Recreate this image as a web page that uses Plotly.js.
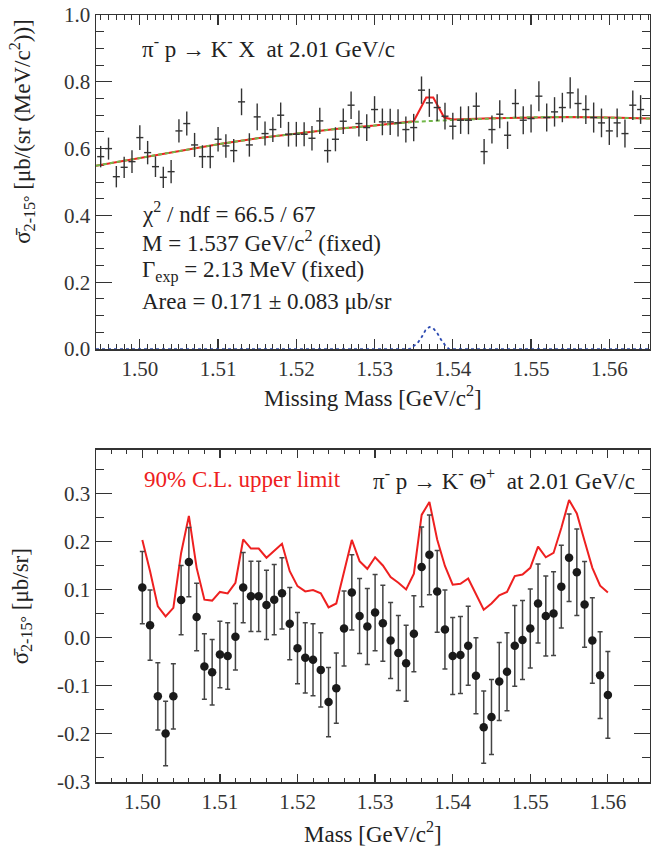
<!DOCTYPE html>
<html><head><meta charset="utf-8">
<script src="https://cdn.plot.ly/plotly-3.0.1.min.js"></script>
<style>html,body{margin:0;padding:0;background:#fff}</style>
</head><body><div id="chart" style="width:651px;height:847px"></div>
<script>
// ---- top panel: missing-mass spectrum ----
const topMass = [1.495,1.496,1.497,1.498,1.499,1.500,1.501,1.502,1.503,1.504,1.505,1.506,1.507,1.508,1.509,1.510,1.511,1.512,1.513,1.514,1.515,1.516,1.517,1.518,1.519,1.520,1.521,1.522,1.523,1.524,1.525,1.526,1.527,1.528,1.529,1.530,1.531,1.532,1.533,1.534,1.535,1.536,1.537,1.538,1.539,1.540,1.541,1.542,1.543,1.544,1.545,1.546,1.547,1.548,1.549,1.550,1.551,1.552,1.553,1.554,1.555,1.556,1.557,1.558,1.559,1.560,1.561,1.562,1.563,1.564];
const topSigma = [0.576,0.600,0.516,0.544,0.561,0.633,0.588,0.546,0.514,0.531,0.653,0.675,0.611,0.576,0.576,0.628,0.608,0.594,0.740,0.611,0.695,0.645,0.657,0.700,0.643,0.643,0.643,0.631,0.683,0.594,0.628,0.682,0.730,0.675,0.663,0.717,0.680,0.680,0.677,0.657,0.663,0.775,0.737,0.723,0.697,0.667,0.685,0.685,0.727,0.591,0.657,0.703,0.640,0.735,0.685,0.690,0.757,0.693,0.710,0.723,0.767,0.735,0.717,0.693,0.677,0.653,0.677,0.645,0.730,0.717];
const topErr = [0.032,0.033,0.032,0.032,0.034,0.037,0.035,0.031,0.032,0.035,0.035,0.036,0.036,0.034,0.035,0.037,0.035,0.035,0.040,0.035,0.040,0.036,0.037,0.038,0.037,0.037,0.036,0.037,0.039,0.036,0.036,0.038,0.041,0.039,0.040,0.040,0.040,0.039,0.041,0.039,0.041,0.041,0.042,0.040,0.040,0.040,0.041,0.042,0.041,0.038,0.042,0.042,0.041,0.043,0.042,0.042,0.045,0.042,0.044,0.044,0.047,0.045,0.043,0.045,0.043,0.042,0.043,0.042,0.044,0.043];
// background fit (green dashed)
const bgMass = [1.4944,1.500,1.505,1.510,1.515,1.520,1.525,1.530,1.535,1.540,1.545,1.550,1.555,1.560,1.5652];
const bgSigma = [0.549,0.572,0.594,0.613,0.631,0.646,0.659,0.669,0.680,0.686,0.691,0.694,0.695,0.693,0.690];
// total fit (red)
const fitMass = [1.4944,1.500,1.505,1.510,1.515,1.520,1.525,1.530,1.535,1.5366,1.5375,1.5389,1.540,1.545,1.550,1.555,1.560,1.5652];
const fitSigma = [0.549,0.572,0.594,0.613,0.631,0.646,0.659,0.669,0.682,0.753,0.753,0.693,0.687,0.691,0.694,0.695,0.693,0.690];
// signal peak (blue dotted)
const peakMass = [1.4944,1.5345,1.5355,1.536,1.5365,1.537,1.5375,1.538,1.5385,1.539,1.5395,1.5652];
const peakSigma = [0,0,0.018,0.035,0.056,0.066,0.062,0.048,0.028,0.012,0,0];

// ---- bottom panel: Theta+ cross section & upper limit ----
const botMass = [1.500,1.501,1.502,1.503,1.504,1.505,1.506,1.507,1.508,1.509,1.510,1.511,1.512,1.513,1.514,1.515,1.516,1.517,1.518,1.519,1.520,1.521,1.522,1.523,1.524,1.525,1.526,1.527,1.528,1.529,1.530,1.531,1.532,1.533,1.534,1.535,1.536,1.537,1.538,1.539,1.540,1.541,1.542,1.543,1.544,1.545,1.546,1.547,1.548,1.549,1.550,1.551,1.552,1.553,1.554,1.555,1.556,1.557,1.558,1.559,1.560];
const botSigma = [0.104,0.026,-0.122,-0.199,-0.122,0.078,0.157,0.043,-0.060,-0.072,-0.035,-0.038,0.002,0.104,0.086,0.086,0.068,0.079,0.092,0.029,-0.022,-0.042,-0.046,-0.067,-0.134,-0.105,0.019,0.094,0.045,0.023,0.052,0.030,-0.006,-0.032,-0.053,0.008,0.147,0.172,0.096,0.017,-0.038,-0.036,-0.017,-0.079,-0.186,-0.165,-0.091,-0.071,-0.017,-0.005,0.019,0.071,0.045,0.050,0.106,0.166,0.136,0.069,-0.006,-0.078,-0.119];
const botErr = [0.075,0.073,0.070,0.067,0.068,0.072,0.072,0.070,0.068,0.068,0.069,0.069,0.069,0.073,0.073,0.073,0.072,0.073,0.074,0.075,0.074,0.073,0.075,0.077,0.072,0.073,0.078,0.078,0.078,0.079,0.079,0.079,0.079,0.078,0.079,0.079,0.083,0.083,0.085,0.082,0.080,0.080,0.082,0.079,0.075,0.078,0.081,0.081,0.084,0.082,0.082,0.082,0.083,0.087,0.086,0.091,0.090,0.089,0.089,0.090,0.090];
const upperLimit = [0.203,0.138,0.065,0.044,0.062,0.176,0.253,0.145,0.079,0.077,0.095,0.092,0.114,0.204,0.185,0.185,0.166,0.180,0.195,0.138,0.107,0.096,0.099,0.092,0.063,0.071,0.138,0.203,0.159,0.143,0.167,0.150,0.126,0.114,0.100,0.133,0.255,0.282,0.204,0.149,0.110,0.112,0.123,0.092,0.058,0.071,0.088,0.095,0.128,0.131,0.145,0.189,0.167,0.176,0.228,0.286,0.258,0.201,0.145,0.108,0.094];

const topYTicks = [0.0,0.2,0.4,0.6,0.8,1.0];
const topYLabels = ["0.0","0.2","0.4","0.6","0.8","1.0"];
const botYTicks = [-0.3,-0.2,-0.1,0.0,0.1,0.2,0.3];
const botYLabels = ["-0.3","-0.2","-0.1","0.0","0.1","0.2","0.3"];

const FONT = "Liberation Serif, Times New Roman, serif";
const INK = "#222";
const RED = "#ee2020";
const TS = 23;

const traces = [
  {x: peakMass, y: peakSigma, xaxis:'x', yaxis:'y', mode:'lines', line:{color:'#2a48b0', width:1.8, dash:'dot'}, hoverinfo:'skip'},
  {x: fitMass, y: fitSigma, xaxis:'x', yaxis:'y', mode:'lines', line:{color:RED, width:2}, hoverinfo:'skip'},
  {x: bgMass, y: bgSigma, xaxis:'x', yaxis:'y', mode:'lines', line:{color:'#72b84a', width:2, dash:'4px,3px'}, hoverinfo:'skip'},
  {x: topMass, y: topSigma, xaxis:'x', yaxis:'y', mode:'markers', marker:{size:1, color:'rgba(0,0,0,0)'},
   error_y:{type:'data', array: topErr, visible:true, color:'#333', thickness:1.4, width:0},
   error_x:{type:'constant', value:0.00045, visible:true, color:'#333', thickness:1.4, width:0}},
  {x: botMass, y: upperLimit, xaxis:'x2', yaxis:'y2', mode:'lines', line:{color:RED, width:2}, hoverinfo:'skip'},
  {x: botMass, y: botSigma, xaxis:'x2', yaxis:'y2', mode:'markers', marker:{size:8.5, color:'#1a1a1a'},
   error_y:{type:'data', array: botErr, visible:true, color:'#444', thickness:1.5, width:2.5}}
];

const axBase = {showline:true, linecolor:'#333', linewidth:1.5, mirror:'ticks', ticks:'inside', tickcolor:'#333',
  showgrid:false, zeroline:false, tickfont:{family:FONT, size:21, color:'#333'}, layer:'below traces'};

function note(xref, yref, x, y, text, color, extra) {
  return Object.assign({xref:xref, yref:yref, x:x, y:y, xanchor:'left', yanchor:'middle', showarrow:false,
    font:{size:TS, color:color || INK, family:FONT}, text:text}, extra || {});
}

const layout = {
  width:651, height:847, margin:{l:96, r:1, t:15, b:65},
  paper_bgcolor:'#fff', plot_bgcolor:'#fff', showlegend:false,
  font:{family:FONT, color:INK},
  xaxis: Object.assign({}, axBase, {domain:[0,1], anchor:'y', range:[1.4944,1.5652], tick0:1.5, dtick:0.01, tickformat:'.2f',
    ticklen:10, tickwidth:1.2, minor:{dtick:0.001, tick0:1.5, ticklen:5, ticks:'inside', tickcolor:'#333', tickwidth:1}}),
  yaxis: Object.assign({}, axBase, {domain:[0.5645,1], anchor:'x', range:[0,1.0], tickmode:'array', tickvals:topYTicks, ticktext:topYLabels,
    ticklen:16, tickwidth:1.2, minor:{tickmode:'linear', tick0:0, dtick:0.05, ticklen:8, ticks:'inside', tickcolor:'#333', tickwidth:1}}),
  xaxis2: Object.assign({}, axBase, {domain:[0,1], anchor:'y2', range:[1.49403,1.56543], tick0:1.5, dtick:0.01, tickformat:'.2f',
    ticklen:8, tickwidth:1.2, minor:{dtick:0.002, tick0:1.5, ticklen:4, ticks:'inside', tickcolor:'#333', tickwidth:1}}),
  yaxis2: Object.assign({}, axBase, {domain:[0,0.4329], anchor:'x2', range:[-0.3,0.39], tickmode:'array', tickvals:botYTicks, ticktext:botYLabels,
    ticklen:16, tickwidth:1.2, minor:{tickmode:'linear', tick0:0, dtick:0.05, ticklen:8, ticks:'inside', tickcolor:'#333', tickwidth:1}}),
  annotations: [
    note('x','y',1.5,0.904,'π<sup>-</sup> p → K<sup>-</sup> X\u00a0\u00a0at 2.01 GeV/c'),
    note('x','y',1.5,0.41,'χ<sup>2</sup> / ndf = 66.5 / 67'),
    note('x','y',1.5,0.323,'M = 1.537 GeV/c<sup>2</sup> (fixed)'),
    note('x','y',1.5,0.233,'Γ<sub>exp</sub> = 2.13 MeV (fixed)'),
    note('x','y',1.5,0.143,'Area = 0.171 ± 0.083 μb/sr'),
    note('x2','y2',1.5,0.328,'90% C.L. upper limit', RED),
    note('x2','y2',1.5295,0.328,'π<sup>-</sup> p → K<sup>-</sup> Θ<sup>+</sup>\u00a0\u00a0at 2.01 GeV/c'),
    note('paper','paper',0.5,0.502,'Missing Mass [GeV/c<sup>2</sup>]', INK, {xanchor:'center'}),
    note('paper','paper',0.5,-0.0652,'Mass [GeV/c<sup>2</sup>]', INK, {xanchor:'center'}),
    note('paper','paper',-0.1336,0.849,'σ\u0304<sub>2-15°</sub> [μb/(sr (MeV/c<sup>2</sup>))]', INK, {xanchor:'center', textangle:-90}),
    note('paper','paper',-0.1336,0.229,'σ\u0304<sub>2-15°</sub> [μb/sr]', INK, {xanchor:'center', textangle:-90})
  ]
};

Plotly.newPlot('chart', traces, layout, {staticPlot:true, displayModeBar:false});
</script>
</body></html>
